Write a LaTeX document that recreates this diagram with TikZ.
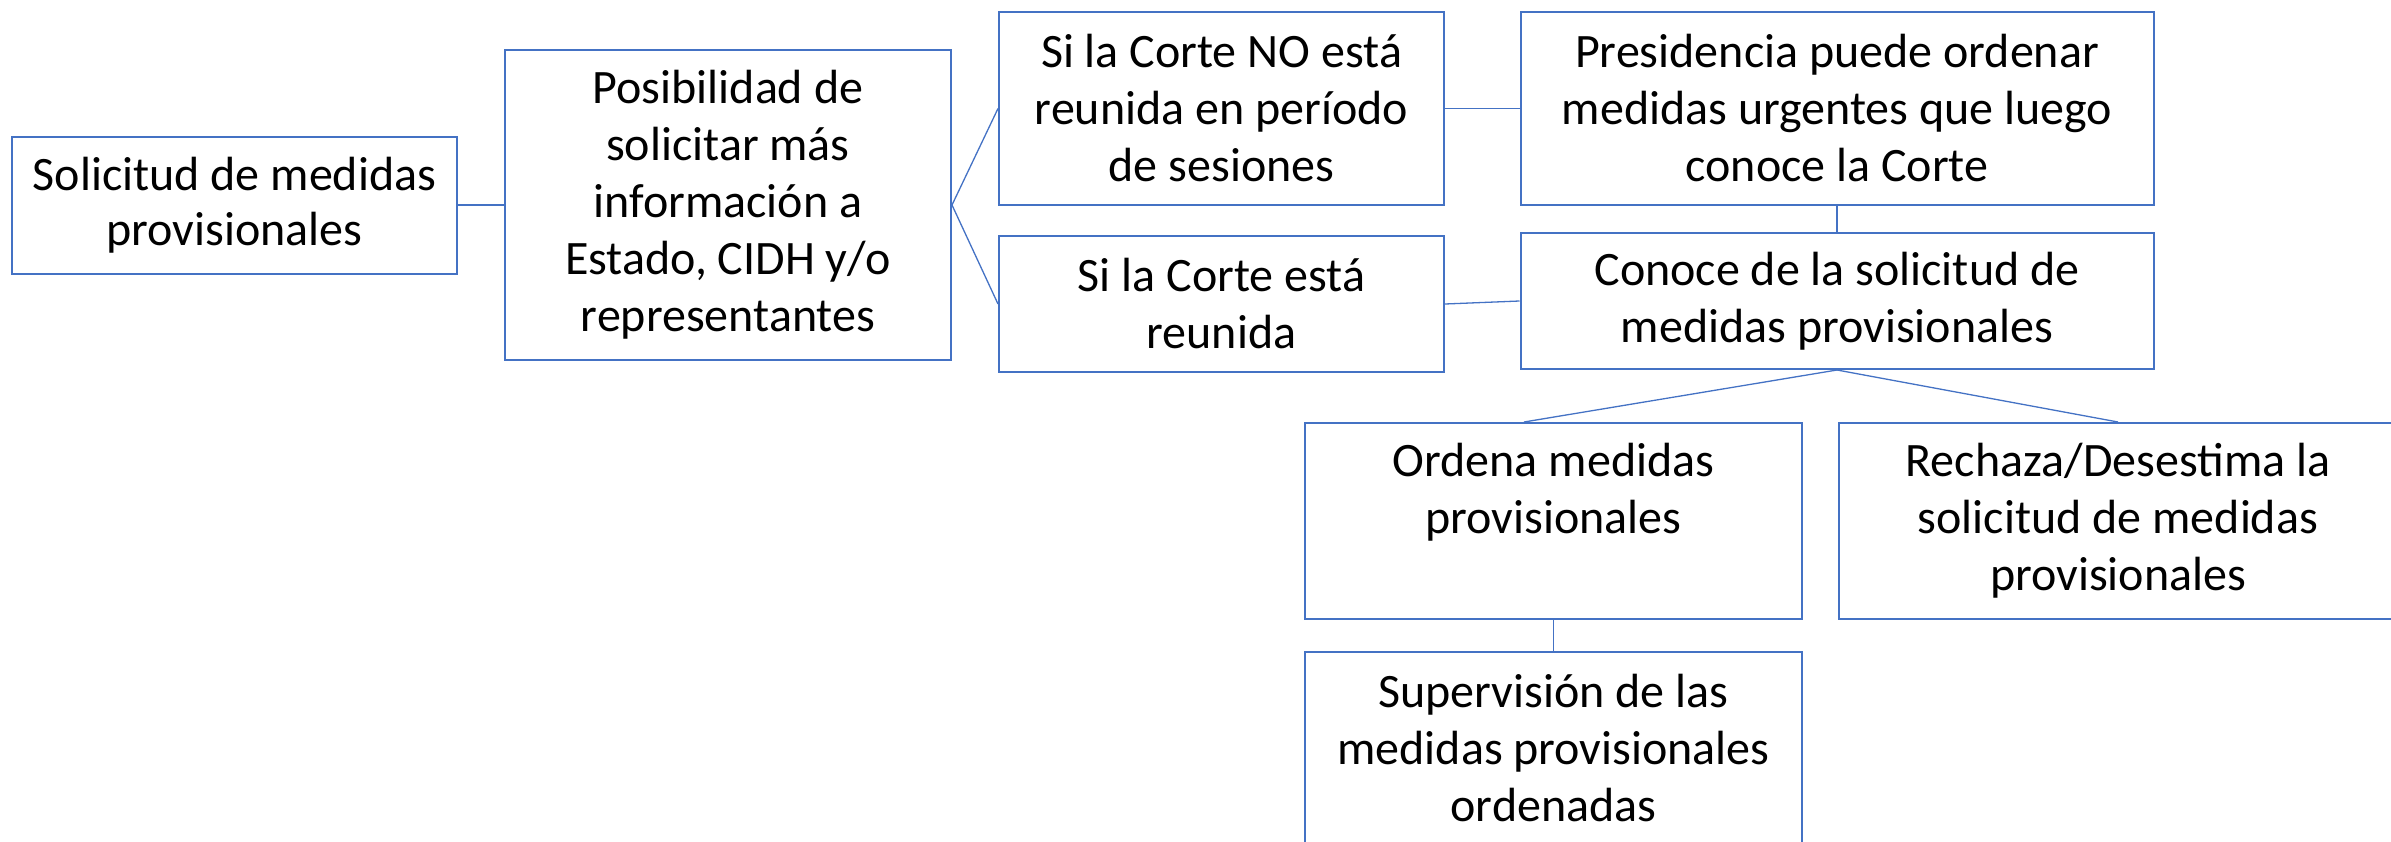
\documentclass[tikz,border=0pt]{standalone}
\usepackage{fontspec}
\setmainfont{Carlito}
\usepackage{tikz}
\usetikzlibrary{positioning}
\definecolor{boxBlue}{RGB}{68,114,196}

\tikzset{
  stepbox/.style={draw=boxBlue, line width=2pt, fill=white, inner sep=0pt,
    align=center, font=\fontsize{48}{57}\selectfont},
  link/.style={draw=boxBlue, line width=1.3pt}
}

\begin{document}
\begin{tikzpicture}[x=1pt,y=-1pt]
\useasboundingbox (0,0) rectangle (2391,841);

\node [stepbox, minimum width=445, minimum height=137, font=\fontsize{48}{55}\selectfont] (sol) at (234.5,205) {Solicitud de medidas\\provisionales};
\node [stepbox, minimum width=446, minimum height=310] (pos) at (728,205) {Posibilidad de\\solicitar más\\información a\\Estado, CIDH y/o\\representantes};
\node [stepbox, minimum width=445, minimum height=193] (nocorte) at (1221.5,108.5) {Si la Corte NO está\\reunida en período\\de sesiones};
\node [stepbox, minimum width=445, minimum height=136] (sicorte) at (1221.5,304) {Si la Corte está\\reunida};
\node [stepbox, minimum width=633, minimum height=193] (pres) at (1837,108.5) {Presidencia puede ordenar\\medidas urgentes que luego\\conoce la Corte};
\node [stepbox, minimum width=633, minimum height=136] (conoce) at (1837,301) {Conoce de la solicitud de\\medidas provisionales};
\node [stepbox, minimum width=497, minimum height=196] (ordena) at (1553.5,521) {Ordena medidas\\provisionales\\\vphantom{p}};
\node [stepbox, minimum width=558, minimum height=196] (rechaza) at (2118,521) {Rechaza/Desestima la\\solicitud de medidas\\provisionales};
\node [stepbox, minimum width=497, minimum height=192] (superv) at (1553.5,748) {Supervisión de las\\medidas provisionales\\ordenadas};

\draw [link] (sol.east) -- (pos.west);
\draw [link] (pos.east) -- (nocorte.west);
\draw [link] (pos.east) -- (sicorte.west);
\draw [link] (nocorte.east) -- (pres.west);
\draw [link] (sicorte.east) -- (conoce.west);
\draw [link] (pres.south) -- (conoce.north);
\draw [link] (conoce.south) -- ([xshift=-29.5pt]ordena.north);
\draw [link] (conoce.south) -- (rechaza.north);
\draw [link] (ordena.south) -- (superv.north);
\end{tikzpicture}
\end{document}
